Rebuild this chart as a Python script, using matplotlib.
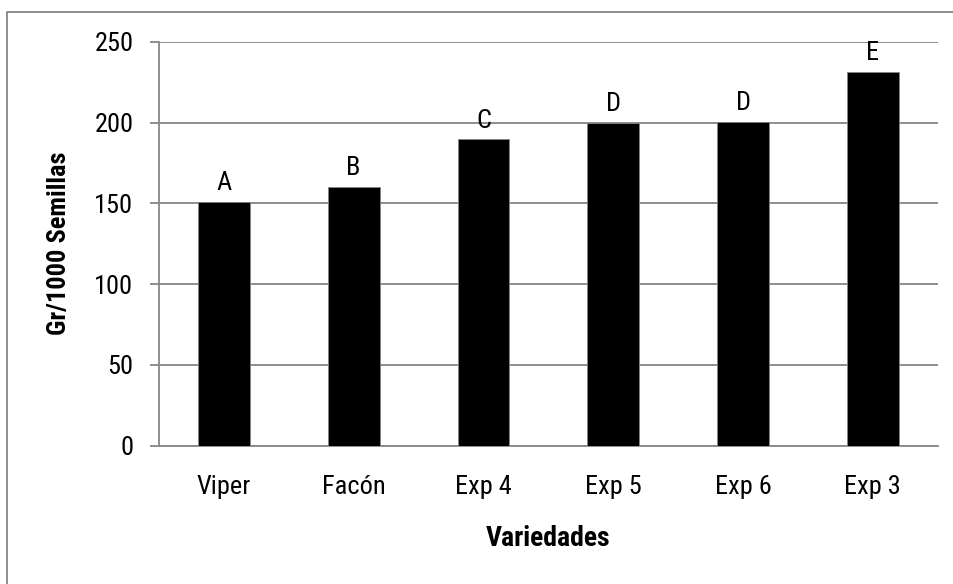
#!/usr/bin/env python3
import matplotlib
matplotlib.use("Agg")
import matplotlib.pyplot as plt
from matplotlib.lines import Line2D

# data
variedades = ["Viper", "Facón", "Exp 4", "Exp 5", "Exp 6", "Exp 3"]
gr_1000 = [151, 160, 189.5, 199.5, 200.5, 231]
letras = ["A", "B", "C", "D", "D", "E"]
y_ticks = [0, 50, 100, 150, 200, 250]

plt.rcParams['font.family'] = ['Roboto Condensed', 'DejaVu Sans']
plt.rcParams['font.size'] = 19

grey = "#868686"

figure = plt.figure(figsize=(9.54, 5.84), dpi=100)
axis = figure.add_axes([159 / 954, 1 - 445.7 / 584, (937.7 - 159) / 954, (445.7 - 41.7) / 584])

# outer chart border (only left and top edges are inside the image)
bx, by = 7 / 954, 1 - 12 / 584
figure.add_artist(Line2D([bx, bx, 1.0], [0.0, by, by], transform=figure.transFigure,
                         color=grey, linewidth=1.3))

x = range(len(variedades))
axis.bar(x, gr_1000, width=0.4, color="black", edgecolor=grey, linewidth=0.6, zorder=3)
for xi, val, letra in zip(x, gr_1000, letras):
    axis.annotate(letra, (xi, val), xytext=(0, 5), textcoords="offset points",
                  ha="center", va="bottom")

axis.set_xlim(-0.5, len(variedades) - 0.5)
axis.set_ylim(0, 250)
axis.set_yticks(y_ticks)
axis.set_xticks(list(x))
axis.set_xticklabels(variedades)
axis.yaxis.grid(True, color=grey, linewidth=1.3, zorder=0)
axis.set_axisbelow(True)

for side in ["top", "right"]:
    axis.spines[side].set_visible(False)
for side in ["left", "bottom"]:
    axis.spines[side].set_color(grey)
    axis.spines[side].set_linewidth(1.3)

axis.tick_params(axis="y", length=6.5, color=grey, width=1.3, pad=12)
axis.tick_params(axis="x", length=0, pad=21)

axis.set_xlabel("Variedades", fontweight="bold", fontsize=20, labelpad=19)
axis.set_ylabel("Gr/1000 Semillas", fontweight="bold", fontsize=19, labelpad=17)

figure.savefig("out.png", dpi=100)
